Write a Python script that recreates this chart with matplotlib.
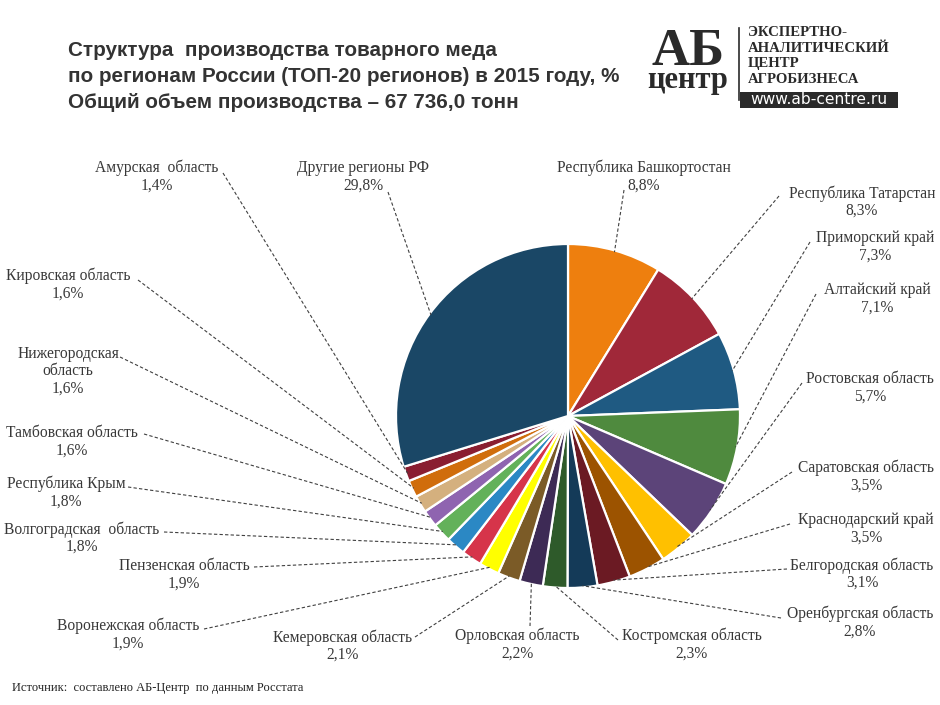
import matplotlib
matplotlib.use("Agg")
import matplotlib.pyplot as plt
from matplotlib.patches import Rectangle
import numpy as np

# ---------------- data ----------------
regions = [
    "Республика Башкортостан", "Республика Татарстан", "Приморский край",
    "Алтайский край", "Ростовская область", "Саратовская область",
    "Краснодарский край", "Белгородская область", "Оренбургская область",
    "Костромская область", "Орловская область", "Кемеровская область",
    "Воронежская область", "Пензенская область", "Волгоградская  область",
    "Республика Крым", "Тамбовская область", "Нижегородская\nобласть",
    "Кировская область", "Амурская  область", "Другие регионы РФ",
]
shares = [8.8, 8.3, 7.3, 7.1, 5.7, 3.5, 3.5, 3.1, 2.8, 2.3, 2.2, 2.1,
          1.9, 1.9, 1.8, 1.8, 1.6, 1.6, 1.6, 1.4, 29.8]
colors = ["#EE7F0E", "#A02839", "#1F5A82", "#4F8A3E", "#5C4479", "#FFC000",
          "#9C5300", "#6B1A23", "#143A58", "#2E5A2A", "#3D2A55", "#7B5B27",
          "#FFFF00", "#D6344A", "#2B88C4", "#63B15A", "#8F64B0", "#D4B07E",
          "#D06D0C", "#8A1E31", "#1A4766"]

title_lines = ["Структура  производства товарного меда",
               "по регионам России (ТОП-20 регионов) в 2015 году, %",
               "Общий объем производства – 67 736,0 тонн"]
source = "Источник:  составлено АБ-Центр  по данным Росстата"
logo_lines = ["ЭКСПЕРТНО-", "АНАЛИТИЧЕСКИЙ", "ЦЕНТР", "АГРОБИЗНЕСА"]

# ---------------- layout (pixel coords, y downward) ----------------
W, H = 940, 705
CX, CY, R = 568, 416, 172
# text centre x, first-line y, leader start point
label_pos = [
    (644, 168, (624, 190)), (862, 193, (779, 196)), (875, 238, (810, 242)),
    (877, 290, (816, 294)), (870, 379, (802, 383)), (866, 468, (792, 472)),
    (866, 520, (790, 524)), (862, 565, (787, 569)), (860, 614, (781, 618)),
    (692, 636, (618, 640)), (517, 636, (530, 626)), (343, 637, (415, 637)),
    (128, 626, (204, 629)), (184, 566, (254, 567)), (82, 529, (164, 532)),
    (66, 484, (128, 487)), (72, 433, (144, 434)), (68, 354, (120, 357)),
    (68, 276, (138, 280)), (157, 168, (223, 173)), (363, 168, (388, 192)),
]

def Y(y):
    return H - y

fig = plt.figure(figsize=(W / 100, H / 100), dpi=100)
fig.patch.set_facecolor("white")
ax = fig.add_axes([0, 0, 1, 1])

wedges, _ = ax.pie(shares, colors=colors, startangle=90, counterclock=False,
                   center=(CX, Y(CY)), radius=R,
                   wedgeprops=dict(edgecolor="white", linewidth=1.6))
ax.set_xlim(0, W)
ax.set_ylim(0, H)
ax.set_aspect("auto")
ax.axis("off")

txt_col = "#383838"
serif = "Liberation Serif"
for w, name, val, (tx, ty, anc) in zip(wedges, regions, shares, label_pos):
    ang = np.deg2rad((w.theta1 + w.theta2) / 2)
    ex = CX + R * 0.99 * np.cos(ang)
    ey = Y(CY) + R * 0.99 * np.sin(ang)
    ax.plot([anc[0], ex], [Y(anc[1]), ey], color="#404040", lw=0.8,
            ls=(0, (3, 2)), solid_capstyle="butt")
    text = name + "\n" + f"{val:.1f}".replace(".", ",") + "%"
    ax.text(tx, Y(ty) + 8, text, ha="center", va="top", fontsize=11.2,
            family=serif, color=txt_col, linespacing=1.12)

# title
for i, t in enumerate(title_lines):
    ax.text(68, Y(51 + i * 26), t, ha="left", va="center", fontsize=14.9,
            family="Liberation Sans", weight="bold", color="#333333")

# source
ax.text(12, Y(688), source, ha="left", va="center", fontsize=9,
        family=serif, color="#222222")

# logo
logo_col = "#2a2a2a"
ax.text(688, Y(65), "АБ", ha="center", va="baseline", fontsize=38,
        family=serif, weight="bold", color=logo_col)
ax.text(688, Y(88), "центр", ha="center", va="baseline", fontsize=22,
        family=serif, weight="bold", color=logo_col)
ax.plot([739, 739], [Y(28), Y(100)], color=logo_col, lw=1.2)
for i, t in enumerate(logo_lines):
    ax.text(748, Y(33 + i * 15.5), t, ha="left", va="center", fontsize=10.6,
            family=serif, weight="bold", color=logo_col)
ax.add_patch(Rectangle((740, Y(108)), 158, 16, facecolor=logo_col,
                       edgecolor="none"))
ax.text(819, Y(100), "www.ab-centre.ru", ha="center", va="center",
        fontsize=11.2, family="DejaVu Sans", color="white")

fig.savefig("out.png", dpi=100, facecolor="white")
